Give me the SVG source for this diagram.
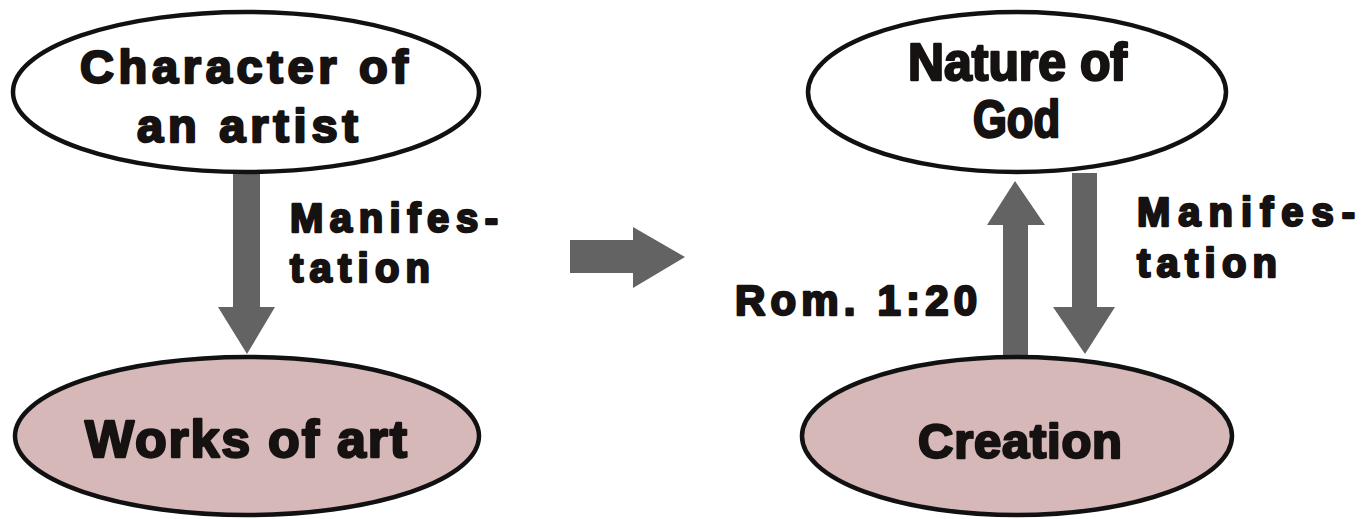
<svg xmlns="http://www.w3.org/2000/svg" width="1361" height="519" viewBox="0 0 1361 519">
<style>
.bg{fill:#ffffff}
.node{stroke:#111111;stroke-width:4.5}
.top{fill:#ffffff}
.bot{fill:#d6b8b8}
.t{font-family:"Liberation Sans",Arial,sans-serif;font-weight:bold;fill:#161212;stroke:#161212;stroke-width:2.4;stroke-linejoin:round}
.arrow{fill:#636363;stroke:none}
</style>
<rect class="bg" x="0" y="0" width="1361" height="519"/>
<g id="connectors">
  <path class="arrow" d="M233 173 L260 173 L260 307 L275 307 L247 354 L218 307 L233 307 Z"/>
  <path class="arrow" d="M570 240 L633 240 L633 227 L685 257 L633 288 L633 273 L570 273 Z"/>
  <path class="arrow" d="M1003 359 L1003 225 L987 225 L1015 181 L1045 225 L1028 225 L1028 359 Z"/>
  <path class="arrow" d="M1072 173 L1097 173 L1097 307 L1115 307 L1085 354 L1053 307 L1072 307 Z"/>
  <text class="t" x="290" y="232" font-size="40" textLength="208" lengthAdjust="spacing">Manifes-</text>
  <text class="t" x="290" y="282" font-size="40" textLength="140" lengthAdjust="spacing">tation</text>
  <text class="t" x="1137" y="226" font-size="40" textLength="218" lengthAdjust="spacing">Manifes-</text>
  <text class="t" x="1137" y="277" font-size="40" textLength="140" lengthAdjust="spacing">tation</text>
  <text class="t" x="735" y="315" font-size="42" textLength="242" lengthAdjust="spacing">Rom. 1:20</text>
</g>
<g id="node-character">
  <ellipse class="node top" cx="246" cy="92" rx="233" ry="80"/>
  <text class="t" x="80" y="83" font-size="47" textLength="328" lengthAdjust="spacing">Character of</text>
  <text class="t" x="137" y="142" font-size="47" textLength="221" lengthAdjust="spacing">an artist</text>
</g>
<g id="node-works">
  <ellipse class="node bot" cx="247" cy="436" rx="232" ry="79"/>
  <text class="t" x="85" y="457" font-size="52" textLength="322" lengthAdjust="spacing">Works of art</text>
</g>
<g id="node-nature">
  <ellipse class="node top" cx="1017" cy="92" rx="209" ry="80"/>
  <text class="t" x="908" y="80" font-size="51" textLength="219" lengthAdjust="spacingAndGlyphs">Nature of</text>
  <text class="t" x="973" y="137" font-size="51" textLength="87" lengthAdjust="spacingAndGlyphs">God</text>
</g>
<g id="node-creation">
  <ellipse class="node bot" cx="1017" cy="436" rx="215" ry="79"/>
  <text class="t" x="918" y="458" font-size="49" textLength="204" lengthAdjust="spacing">Creation</text>
</g>
</svg>
